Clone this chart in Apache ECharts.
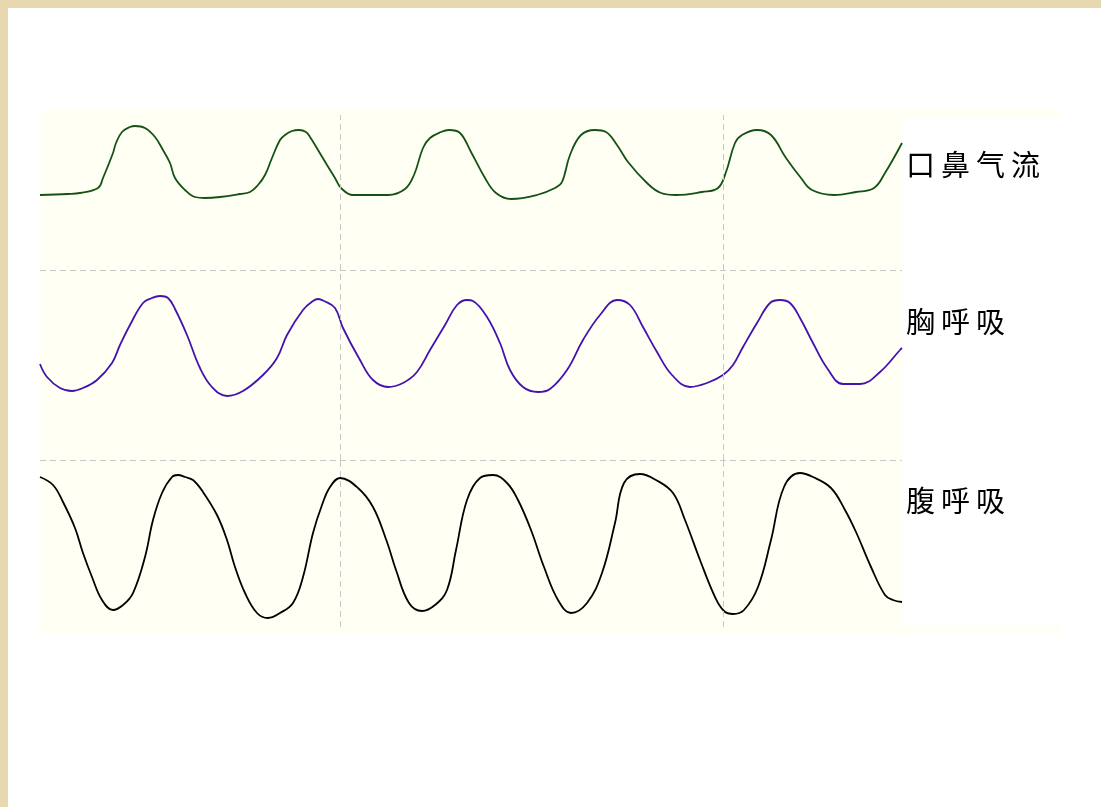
<!DOCTYPE html>
<html>
<head>
<meta charset="utf-8">
<script src="https://cdn.jsdelivr.net/npm/echarts@6/dist/echarts.min.js"></script>
<style>
html,body{margin:0;padding:0;background:#fff;}
#main{width:1101px;height:807px;}
</style>
</head>
<body>
<div id="main"></div>
<script>
// Time positions (sample index along the trace) and amplitudes
const flowT = [0,28,40,58,63,73,76,82,90,95,105,115,123,130,135,145,155,165,180,200,210,218,225,232,240,245,252,259,266,270,278,287,295,301,313,348,365,374,383,390,401,409,420,431,445,456,471,497,515,522,530,541,555,566,577,588,607,621,636,662,678,686,695,702,717,731,746,761,772,794,816,834,845,862];
const flowV = [75,76,77,82,92,117,127,138,143,144,142,133,120,107,92,80,73,72,73,76,78,85,95,112,130,135,139,140,138,133,120,105,92,82,75,75,81,95,122,132,138,140,137,118,92,77,71,75,82,88,115,135,140,138,125,108,87,77,75,78,82,98,127,135,140,135,112,92,80,75,78,82,97,127];

const chestT = [0,7,20,32,43,57,72,80,90,103,112,120,128,135,147,160,172,187,203,223,237,247,263,273,278,284,295,303,320,333,348,363,377,390,405,417,427,433,447,460,470,483,498,510,527,543,560,577,590,603,617,632,650,667,683,693,703,717,730,740,750,760,773,787,803,820,840,860,862];
const chestV = [96,83,72,69,72,80,97,115,135,157,162,164,162,151,125,92,73,64,69,85,102,125,150,159,161,159,152,132,100,80,73,77,88,110,135,155,160,159,143,117,90,73,68,71,90,120,145,160,155,133,108,85,73,77,85,95,113,137,157,160,157,142,117,92,76,76,88,110,112];

const abdT = [0,13,23,35,43,52,62,73,83,93,105,113,122,132,138,145,153,163,177,187,195,205,217,228,240,253,263,273,282,290,300,318,333,347,356,369,382,395,407,416,427,440,453,467,478,491,504,518,531,547,562,575,584,600,616,633,645,660,675,684,693,704,718,731,744,760,773,791,805,816,831,845,853,862];
const abdV = [150,142,125,99,74,50,27,17,22,34,70,107,134,150,152,150,147,135,112,87,60,34,14,9,14,24,50,94,122,140,149,139,120,85,57,24,16,22,37,77,127,149,152,144,127,97,60,27,14,24,54,104,144,153,147,134,107,67,30,16,13,17,40,87,140,154,150,139,117,95,60,32,27,25];

const seriesNames = ['口鼻气流','胸呼吸','腹呼吸'];
const seriesColors = ['#145214','#4412b0','#000000'];
const dividerTimes = [300, 683];

function zip(t, v){ return t.map((x,i)=>[x, v[i]]); }
const datasets = [zip(flowT, flowV), zip(chestT, chestV), zip(abdT, abdV)];

const grids = [
  {left:40, top:115, width:862, height:155},
  {left:40, top:270, width:862, height:190},
  {left:40, top:460, width:862, height:167}
];
const yMax = [155, 190, 167];

const dashStyle = {color:'#c8c8c8', width:1, type:[6,4]};

const xAxes = grids.map((g,i)=>({
  type:'value', gridIndex:i, min:0, max:862, show:false
}));
const yAxes = grids.map((g,i)=>({
  type:'value', gridIndex:i, min:0, max:yMax[i], interval:yMax[i],
  axisLine:{show:false}, axisTick:{show:false}, axisLabel:{show:false},
  splitLine:{show: i===1, lineStyle:dashStyle}
}));

const series = datasets.map((d,i)=>({
  type:'line', name:seriesNames[i], xAxisIndex:i, yAxisIndex:i,
  data:d, smooth:0.4, symbol:'none',
  lineStyle:{color:seriesColors[i], width:1.8},
  markLine:{
    silent:true, symbol:'none', label:{show:false},
    lineStyle:dashStyle,
    data: dividerTimes.map(x=>({xAxis:x}))
  }
}));

const labelTops = [150, 307, 486];
const titles = seriesNames.map((n,i)=>({
  text: n.split('').map(c=>'{c|'+c+'}').join(''),
  left: 906, top: labelTops[i], padding:0,
  textStyle:{
    rich:{ c:{ fontSize:29, width:35, align:'left', color:'#000',
      fontFamily:'"Noto Sans CJK SC", sans-serif', fontWeight:'normal', lineHeight:30 } }
  }
}));

const chart = echarts.init(document.getElementById('main'), null, {renderer:'canvas'});
chart.setOption({
  animation:false,
  backgroundColor:'#ffffff',
  graphic:[
    {type:'rect', z:-10, shape:{x:0,y:0,width:1101,height:8}, style:{fill:'#e8d8b0'}},
    {type:'rect', z:-10, shape:{x:0,y:0,width:8,height:807}, style:{fill:'#e8d8b0'}},
    {type:'rect', z:-10, shape:{x:40,y:110,width:1020,height:523}, style:{fill:'#fffff4'}},
    {type:'rect', z:-9, shape:{x:902,y:118,width:158,height:507}, style:{fill:'#ffffff'}}
  ],
  title: titles,
  grid: grids,
  xAxis: xAxes,
  yAxis: yAxes,
  series: series
});
</script>
</body>
</html>
